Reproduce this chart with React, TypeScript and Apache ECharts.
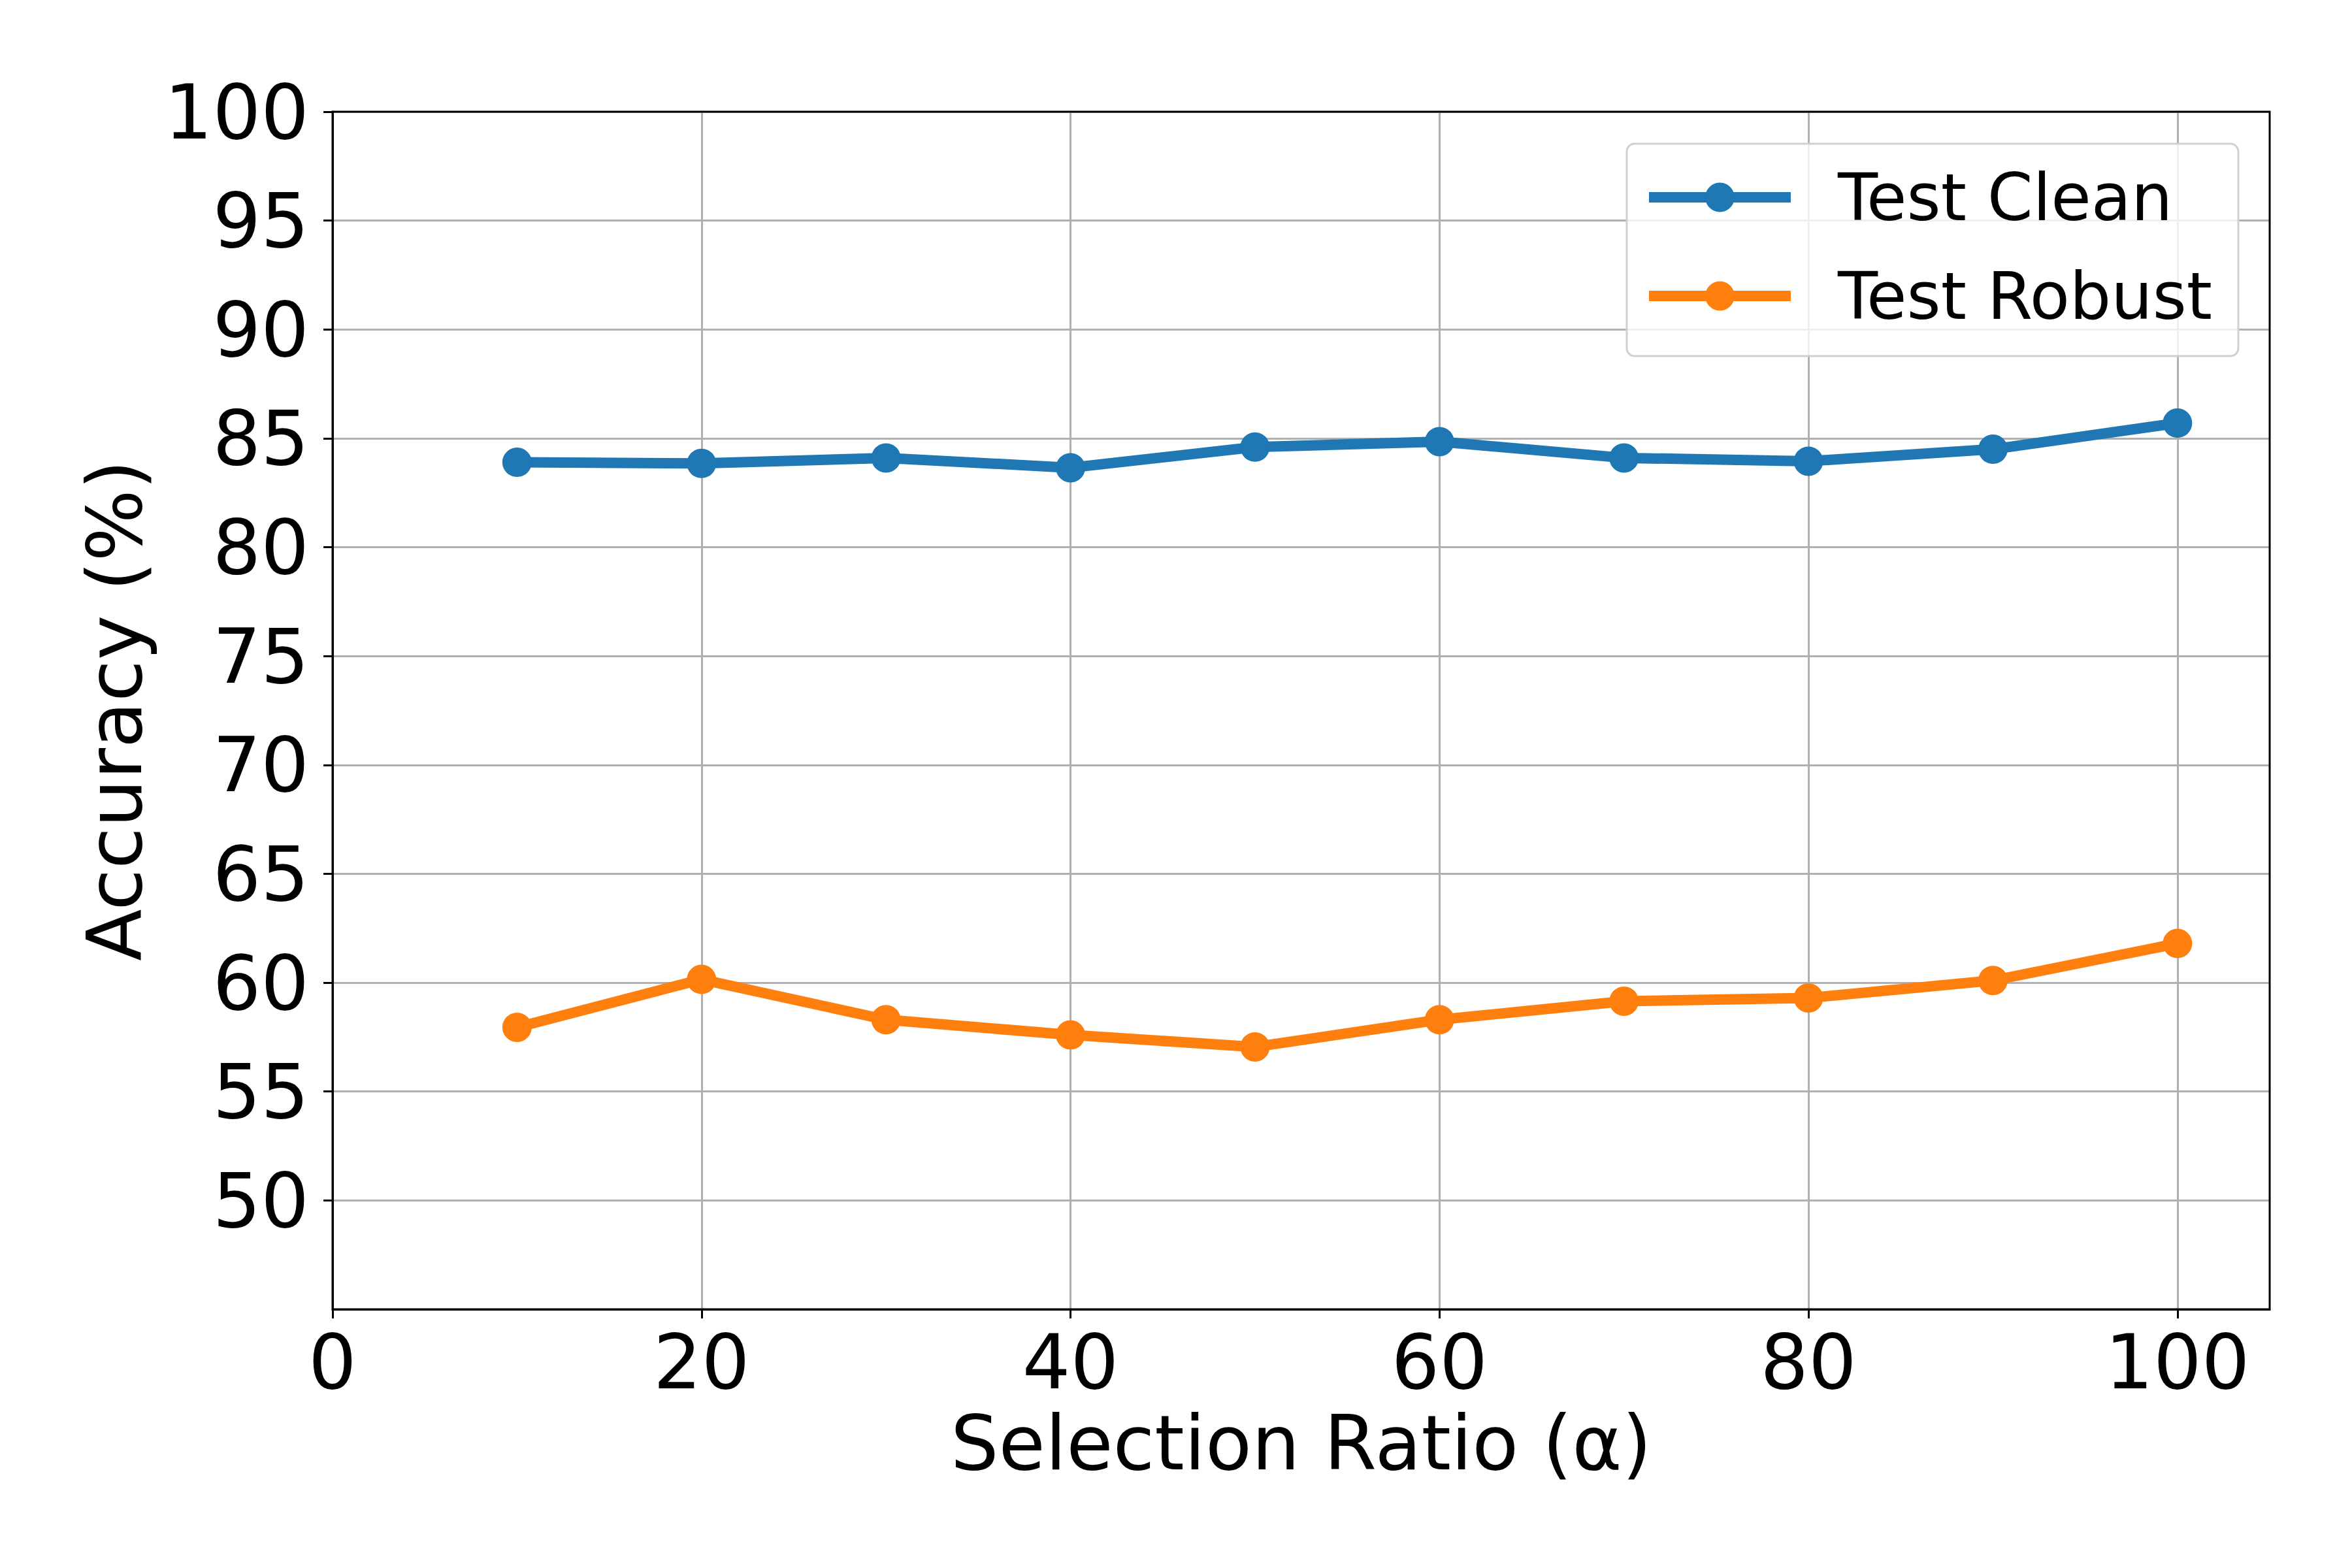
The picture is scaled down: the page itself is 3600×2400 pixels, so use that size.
import React, { useEffect, useRef } from "react";
import * as echarts from "echarts";

const xValues = [10, 20, 30, 40, 50, 60, 70, 80, 90, 100];
const testClean = [83.9, 83.85, 84.1, 83.65, 84.6, 84.85, 84.1, 83.95, 84.5, 85.7];
const testRobust = [57.95, 60.15, 58.3, 57.6, 57.05, 58.3, 59.15, 59.3, 60.1, 61.8];
const xTicks = [0, 20, 40, 60, 80, 100];
const yTicks = [50, 55, 60, 65, 70, 75, 80, 85, 90, 95, 100];

const FONT = "DejaVu Sans";

export default function App() {
  const ref = useRef<HTMLDivElement>(null);
  useEffect(() => {
    if (!ref.current) return;
    const chart = echarts.init(ref.current, undefined, { renderer: "svg" });
    const mk = (vals: number[]) => xValues.map((x, i) => [x, vals[i]]);
    chart.setOption({
      animation: false,
      backgroundColor: "#ffffff",
      grid: {
        left: 509,
        right: 126,
        top: 171,
        bottom: 396,
        show: true,
        borderColor: "#000000",
        borderWidth: 3,
        backgroundColor: "transparent",
        z: 5,
      },
      legend: {
        orient: "vertical",
        right: 174,
        top: 220,
        padding: [32, 40, 42, 26],
        itemWidth: 217,
        itemHeight: 56,
        itemGap: 51,
        backgroundColor: "rgba(255,255,255,0.8)",
        borderColor: "#d0d0d0",
        borderWidth: 3,
        borderRadius: 12,
        lineStyle: { width: 16 },
        textStyle: {
          fontFamily: FONT,
          fontSize: 100,
          color: "#000",
          lineHeight: 100,
          padding: [0, 0, 0, 67],
        },
        data: ["Test Clean", "Test Robust"],
      },
      xAxis: {
        type: "value",
        min: 0,
        max: 105,
        interval: 20,
        name: "Selection Ratio (α)",
        nameLocation: "middle",
        nameGap: 146,
        nameTextStyle: { fontFamily: FONT, fontSize: 116, color: "#000" },
        axisLine: { show: true, lineStyle: { color: "#000", width: 3 } },
        axisTick: {
          show: true,
          length: 14,
          inside: false,
          customValues: xTicks,
          lineStyle: { color: "#000", width: 3 },
        },
        axisLabel: {
          fontFamily: FONT,
          fontSize: 116,
          color: "#000",
          margin: 22,
          customValues: xTicks,
        },
        splitLine: { show: true, lineStyle: { color: "#b0b0b0", width: 3 } },
      },
      yAxis: {
        type: "value",
        min: 45,
        max: 100,
        interval: 5,
        name: "Accuracy (%)",
        nameLocation: "middle",
        nameRotate: 90,
        nameGap: 276,
        nameTextStyle: { fontFamily: FONT, fontSize: 116, color: "#000" },
        axisLine: { show: true, lineStyle: { color: "#000", width: 3 } },
        axisTick: {
          show: true,
          length: 14,
          inside: false,
          customValues: yTicks,
          lineStyle: { color: "#000", width: 3 },
        },
        axisLabel: {
          fontFamily: FONT,
          fontSize: 116,
          color: "#000",
          margin: 36,
          customValues: yTicks,
        },
        splitLine: { show: true, lineStyle: { color: "#b0b0b0", width: 3 } },
      },
      series: [
        {
          name: "Test Clean",
          type: "line",
          data: mk(testClean),
          symbol: "circle",
          symbolSize: 45,
          showAllSymbol: true,
          color: "#1f77b4",
          lineStyle: { width: 16, color: "#1f77b4" },
          itemStyle: { color: "#1f77b4" },
          z: 3,
        },
        {
          name: "Test Robust",
          type: "line",
          data: mk(testRobust),
          symbol: "circle",
          symbolSize: 45,
          showAllSymbol: true,
          color: "#ff7f0e",
          lineStyle: { width: 16, color: "#ff7f0e" },
          itemStyle: { color: "#ff7f0e" },
          z: 3,
        },
      ],
    });
    return () => chart.dispose();
  }, []);
  return (
    <div
      ref={ref}
      style={{ position: "fixed", left: 0, top: 0, width: 3600, height: 2400 }}
    />
  );
}
